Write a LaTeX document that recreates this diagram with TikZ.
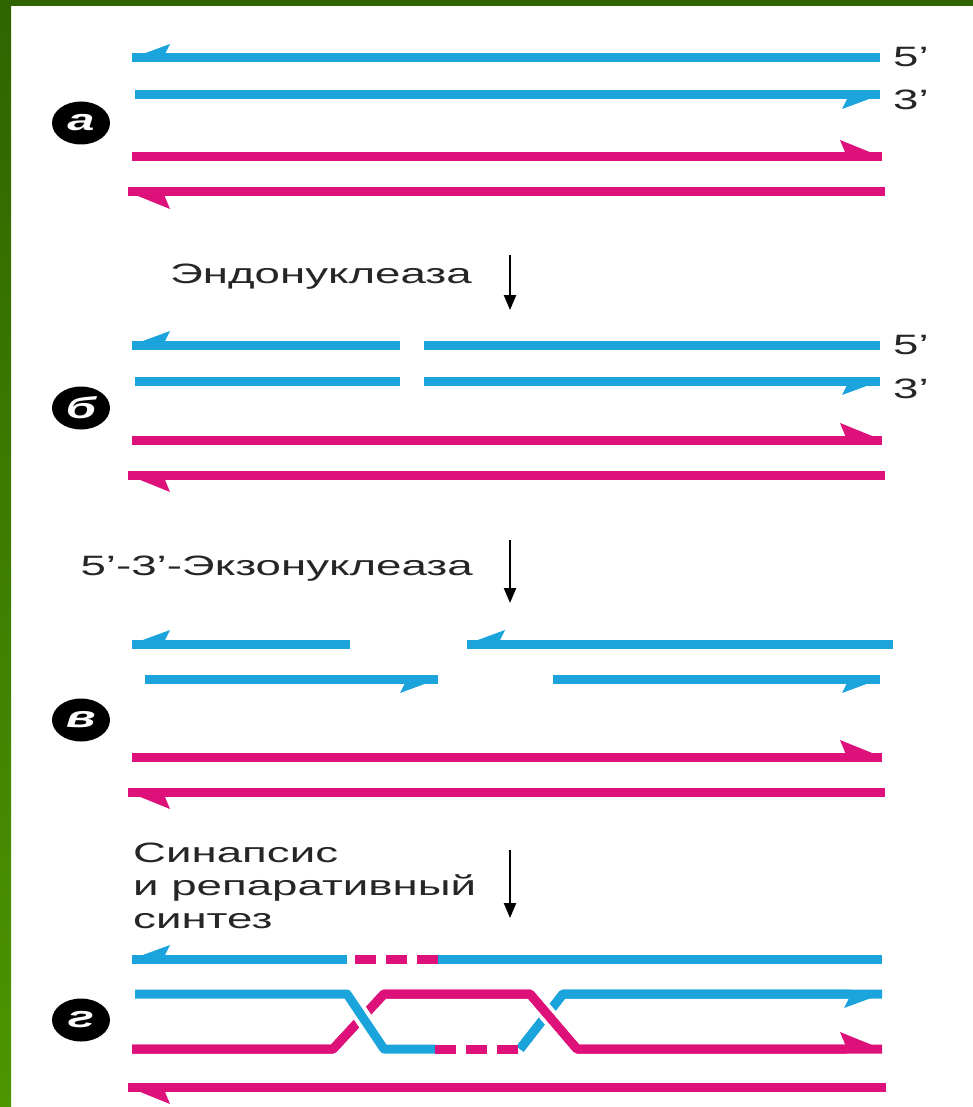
\documentclass[tikz,border=0pt]{standalone}
\usepackage{fontspec}
\newfontfamily\lblfont[FakeStretch=1.63]{Liberation Sans}
\usetikzlibrary{arrows.meta,shapes.geometric}
\definecolor{dnablue}{RGB}{27,163,220}
\definecolor{dnapink}{RGB}{222,16,122}
\definecolor{greentop}{RGB}{48,100,0}
\definecolor{greenbot}{RGB}{76,150,0}
\begin{document}
\begin{tikzpicture}[x=1pt,y=-1pt,
    strand/.style={line width=9pt},
    bl/.style={strand,draw=dnablue},
    mg/.style={strand,draw=dnapink},
    dashmg/.style={mg,dash pattern=on 21pt off 10pt},
    over/.style={preaction={draw=white,line width=17pt}},
    bhead/.style={postaction={draw,-{Stealth[harpoon,swap,length=38pt,width=28pt,inset=7pt,line width=0pt]}}},
    mhead/.style={postaction={draw,-{Stealth[harpoon,length=42pt,width=34pt,inset=7pt,line width=0pt]}}},
    tag/.style={ellipse,fill=black,minimum width=58pt,minimum height=43pt,inner sep=0pt,
      text=white,font=\lblfont\bfseries\itshape\fontsize{30}{30}\selectfont},
    endlbl/.style={anchor=base west,inner sep=0pt,text=black!85,font=\lblfont\fontsize{28}{28}\selectfont},
    steplbl/.style={inner sep=0pt,text=black!85,font=\lblfont\fontsize{28}{33}\selectfont},
    down/.style={line width=2.4pt,-{Triangle[length=15pt,width=12pt]}}]
  \fill[white] (0,0) rectangle (973,1107);
  \shade[top color=greentop,bottom color=greenbot] (0,0) rectangle (11,1107);
  \fill[greentop] (0,0) rectangle (973,6);

  % panel a
  \draw[bl,bhead] (880,58) -- (132,58);
  \draw[bl,bhead] (135,95) -- (880,95);
  \node[endlbl] (a5) at (893,67) {5’};
  \node[endlbl] (a3) at (893,110) {3’};
  \node[tag] (ta) at (81,123) {а};

  % panel b, nick in both blue strands
  \draw[bl,bhead] (400,345) -- (132,345);
  \draw[bl] (880,345) -- (424,345);
  \draw[bl] (135,381) -- (400,381);
  \draw[bl,bhead] (424,381) -- (880,381);
  \node[endlbl] (b5) at (893,354) {5’};
  \node[endlbl] (b3) at (893,398) {3’};
  \node[tag] (tb) at (81,408) {б};

  % panel v, gap after exonuclease
  \draw[bl,bhead] (350,644) -- (132,644);
  \draw[bl,bhead] (893,644) -- (467,644);
  \draw[bl,bhead] (145,679) -- (438,679);
  \draw[bl,bhead] (553,679) -- (880,679);
  \node[tag] (tv) at (81,720) {в};

  % pink strands, same in a, b, v
  \foreach \y in {157,440,757}{
    \draw[mg,mhead] (132,\y) -- (882,\y);
    \draw[mg,mhead] (885,\y+35) -- (128,\y+35);
  }

  % panel g
  \draw[bl,bhead] (347,959) -- (132,959);
  \draw[dashmg] (355,959) -- (438,959);
  \draw[bl] (438,959) -- (882,959);
  \draw[bl,bhead,line join=round] (520,1049) -- (563,994) -- (882,994);
  \draw[mg,over,mhead,line join=round] (132,1049) -- (333,1049) -- (384,994)
    -- (530,994) -- (577,1049) -- (882,1049);
  \draw[bl,over,line join=round] (135,994) -- (347,994) -- (384,1049) -- (435,1049);
  \draw[dashmg] (435,1049) -- (519,1049);
  \draw[mg,mhead] (886,1087) -- (128,1087);
  \node[tag] (tg) at (81,1020) {г};

  % steps
  \node[steplbl,anchor=base east] (endo) at (472,283) {Эндонуклеаза};
  \node[steplbl,anchor=base east] (exo) at (473,575) {5’-3’-Экзонуклеаза};
  \node[steplbl,anchor=north west,align=left] (syn) at (133,843)
    {Синапсис\\и репаративный\\синтез};
  \foreach \i/\t/\b in {1/255/310,2/540/603,3/850/918}{
    \coordinate (s\i) at (510,\t);
    \coordinate (e\i) at (510,\b);
    \draw[down] (s\i) -- (e\i);
  }
\end{tikzpicture}
\end{document}
